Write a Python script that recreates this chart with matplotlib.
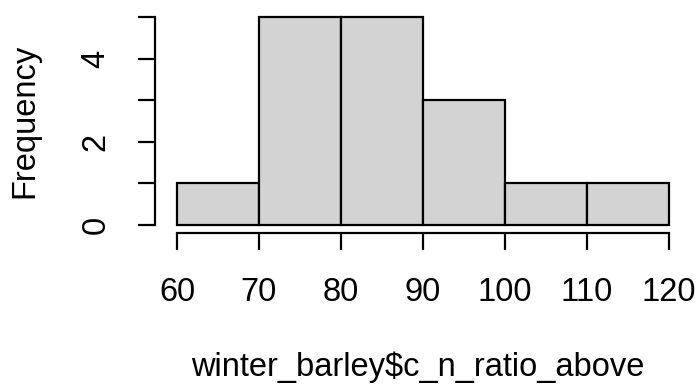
import matplotlib
matplotlib.use("Agg")
import matplotlib.pyplot as plt

bin_edges = [60, 70, 80, 90, 100, 110, 120]
counts = [1, 5, 5, 3, 1, 1]
x_ticks = [60, 70, 80, 90, 100, 110, 120]
y_ticks = [0, 1, 2, 3, 4, 5]
y_labels = ["0", "", "2", "", "4", ""]
xlabel = "winter_barley$c_n_ratio_above"
ylabel = "Frequency"

plt.rcParams['font.family'] = ['Liberation Sans', 'DejaVu Sans']
W, H = 697, 385
fig = plt.figure(figsize=(W / 100, H / 100), dpi=100)
x0, x1 = 177, 669
y0, y1 = 225, 17
ax = fig.add_axes([x0 / W, 1 - y0 / H, (x1 - x0) / W, (y0 - y1) / H])
ax.set_xlim(60, 120)
ax.set_ylim(0, 5)

lw = 1.6
fs = 23.5
widths = [b - a for a, b in zip(bin_edges[:-1], bin_edges[1:])]
ax.bar(bin_edges[:-1], counts, width=widths, align='edge',
       color='#d3d3d3', edgecolor='black', linewidth=lw, clip_on=False)

for s in ['top', 'right']:
    ax.spines[s].set_visible(False)
ax.spines['left'].set_position(('outward', 22 * 0.72))
ax.spines['bottom'].set_position(('outward', 8 * 0.72))
ax.spines['left'].set_bounds(0, 5)
ax.spines['bottom'].set_bounds(60, 120)
for s in ['left', 'bottom']:
    ax.spines[s].set_linewidth(lw)

ax.set_xticks(x_ticks)
ax.set_xticklabels([str(t) for t in x_ticks])
ax.set_yticks(y_ticks)
ax.set_yticklabels(y_labels, rotation=90, va='center')
ax.tick_params(axis='both', length=17 * 0.72, width=lw, labelsize=fs)
ax.tick_params(axis='x', pad=19.5)
ax.tick_params(axis='y', pad=19)

fig.text(418 / W, 1 - 367 / H, xlabel, ha='center', va='center', fontsize=fs)
fig.text(25 / W, 1 - 121 / H, ylabel, ha='center', va='center', fontsize=fs, rotation=90)

fig.savefig("out.png", dpi=100)
